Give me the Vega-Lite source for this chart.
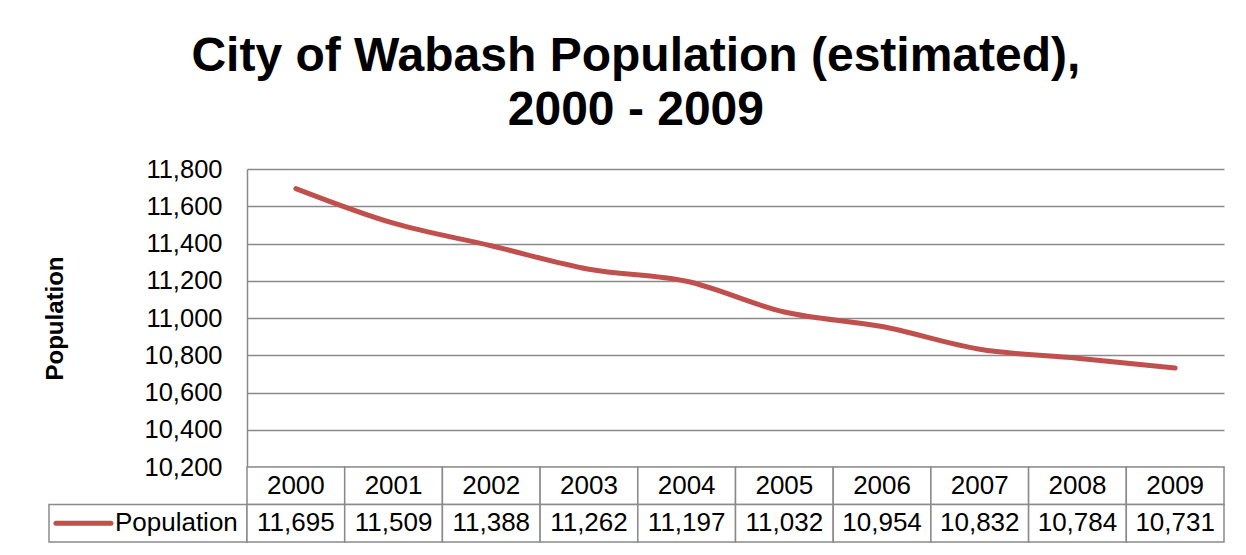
{
  "$schema": "https://vega.github.io/schema/vega-lite/v6.json",
  "background": "white",
  "padding": {"left": 43, "top": 33, "right": 5, "bottom": 5},
  "datasets": {
    "population": [
      {"year": "2000", "population": 11695},
      {"year": "2001", "population": 11509},
      {"year": "2002", "population": 11388},
      {"year": "2003", "population": 11262},
      {"year": "2004", "population": 11197},
      {"year": "2005", "population": 11032},
      {"year": "2006", "population": 10954},
      {"year": "2007", "population": 10832},
      {"year": "2008", "population": 10784},
      {"year": "2009", "population": 10731}
    ],
    "series": [
      {"series": "Population"}
    ]
  },
  "title": {
    "text": ["City of Wabash Population (estimated),", "2000 - 2009"],
    "font": "Liberation Sans",
    "fontSize": 48,
    "fontWeight": "bold",
    "lineHeight": 54,
    "color": "black",
    "anchor": "middle",
    "offset": 22,
    "dx": 2
  },
  "columns": 2,
  "spacing": 0,
  "bounds": "flush",
  "concat": [
    {
      "width": 198,
      "height": 298,
      "data": {"values": []},
      "mark": "text",
      "encoding": {}
    },
    {
      "width": 977,
      "height": 298,
      "data": {"name": "population"},
      "mark": {"type": "line", "interpolate": "monotone", "color": "#C0504D", "strokeWidth": 5, "strokeCap": "round"},
      "encoding": {
        "x": {
          "field": "year",
          "type": "ordinal",
          "scale": {"type": "point", "padding": 0.5},
          "axis": null
        },
        "y": {
          "field": "population",
          "type": "quantitative",
          "scale": {"domain": [10200, 11800], "nice": false, "zero": false},
          "axis": {
            "values": [10200, 10400, 10600, 10800, 11000, 11200, 11400, 11600, 11800],
            "format": ",d",
            "labelFont": "Liberation Sans",
            "labelFontSize": 25.5,
            "labelColor": "black",
            "labelPadding": 25,
            "ticks": false,
            "domain": true,
            "domainColor": "#8a8a8a",
            "domainWidth": 1.5,
            "grid": true,
            "gridColor": "#8a8a8a",
            "gridWidth": 1.5,
            "title": "Population",
            "titleFont": "Liberation Sans",
            "titleFontSize": 24,
            "titleFontWeight": "bold",
            "titleColor": "black",
            "titlePadding": 77
          }
        }
      }
    },
    {
      "width": 198,
      "height": 75,
      "data": {"name": "series"},
      "encoding": {
        "y": {
          "field": "series",
          "type": "nominal",
          "scale": {"domain": ["Year", "Population"], "paddingInner": 0, "paddingOuter": 0},
          "axis": null
        }
      },
      "layer": [
        {
          "mark": {"type": "rect", "fill": "white", "stroke": "#8a8a8a", "strokeWidth": 1.5},
          "encoding": {
            "x": {"field": "series", "type": "nominal", "scale": {"paddingInner": 0, "paddingOuter": 0}, "axis": null}
          }
        },
        {
          "mark": {"type": "point", "shape": "stroke", "size": 3025, "stroke": "#C0504D", "strokeWidth": 5, "strokeCap": "round", "opacity": 1},
          "encoding": {
            "x": {"field": "series", "type": "nominal", "bandPosition": 0.174}
          }
        },
        {
          "mark": {"type": "text", "align": "left", "baseline": "middle", "font": "Liberation Sans", "fontSize": 26, "color": "black"},
          "encoding": {
            "x": {"field": "series", "type": "nominal", "bandPosition": 0.333},
            "text": {"field": "series"}
          }
        }
      ]
    },
    {
      "width": 977,
      "height": 75,
      "data": {"name": "population"},
      "encoding": {
        "x": {"field": "year", "type": "ordinal", "scale": {"type": "band", "paddingInner": 0, "paddingOuter": 0}, "axis": null}
      },
      "layer": [
        {
          "mark": {"type": "rect", "fill": "white", "stroke": "#8a8a8a", "strokeWidth": 1.5},
          "encoding": {
            "y": {"datum": "Year", "type": "nominal", "scale": {"domain": ["Year", "Population"], "paddingInner": 0, "paddingOuter": 0}, "axis": null}
          }
        },
        {
          "mark": {"type": "rect", "fill": "white", "stroke": "#8a8a8a", "strokeWidth": 1.5},
          "encoding": {
            "y": {"datum": "Population", "type": "nominal"}
          }
        },
        {
          "mark": {"type": "text", "align": "center", "baseline": "middle", "font": "Liberation Sans", "fontSize": 26, "color": "black"},
          "encoding": {
            "y": {"datum": "Year", "type": "nominal"},
            "text": {"field": "year"}
          }
        },
        {
          "mark": {"type": "text", "align": "center", "baseline": "middle", "font": "Liberation Sans", "fontSize": 26, "color": "black"},
          "encoding": {
            "y": {"datum": "Population", "type": "nominal"},
            "text": {"field": "population", "format": ",d"}
          }
        }
      ]
    }
  ],
  "config": {
    "view": {"stroke": null},
    "font": "Liberation Sans"
  }
}
